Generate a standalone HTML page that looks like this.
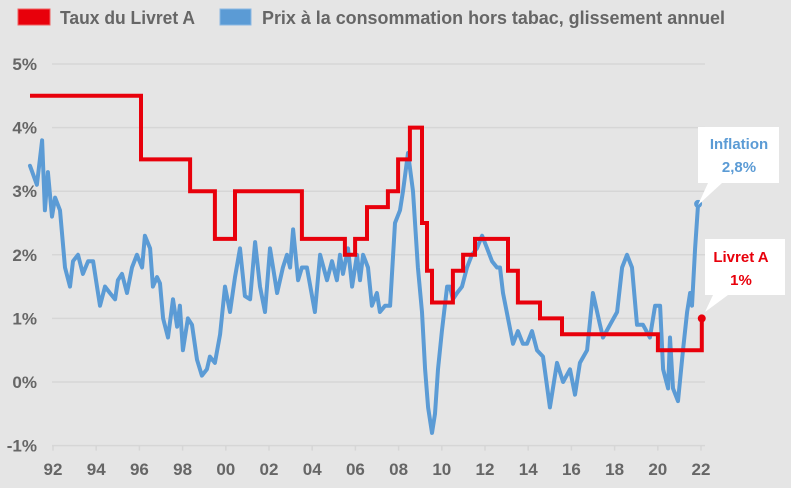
<!DOCTYPE html>
<html><head><meta charset="utf-8"><style>
html,body{margin:0;padding:0;background:#e5e5e5;}
svg{display:block;font-family:"Liberation Sans",sans-serif;font-weight:bold;}
</style></head><body>
<svg id="chart" width="791" height="488" viewBox="0 0 791 488" xmlns="http://www.w3.org/2000/svg">
<rect x="0" y="0" width="791" height="488" fill="#e5e5e5"/>
<g>
 <g>
  <rect x="18" y="9" width="32" height="16" fill="#e8000b" stroke="#f06060" stroke-width="1"/>
  <text x="60" y="24" font-size="18" fill="#666" textLength="135" lengthAdjust="spacingAndGlyphs">Taux du Livret A</text>
 </g>
 <g>
  <rect x="220" y="9" width="31" height="16" fill="#5b9bd5" stroke="#8ab8e4" stroke-width="1"/>
  <text x="262" y="24" font-size="18" fill="#666" textLength="463" lengthAdjust="spacingAndGlyphs">Prix à la consommation hors tabac, glissement annuel</text>
 </g>
</g>
<g id="grid"></g>
<g id="yaxis"></g>
<g id="xaxis"></g>
<g id="series"></g>
<g>
 <path d="M698,127 H779 V183 H722 L698,205 L708,183 H698 Z" fill="#fff"/>
 <text x="739" y="149" font-size="15" fill="#5b9bd5" text-anchor="middle">Inflation</text>
 <text x="739" y="172" font-size="15" fill="#5b9bd5" text-anchor="middle">2,8%</text>
</g>
<g>
 <path d="M705,239 H785 V295 H728 L705,312 L713,295 H705 Z" fill="#fff"/>
 <text x="741" y="262" font-size="15" fill="#e8000b" text-anchor="middle">Livret A</text>
 <text x="741" y="285" font-size="15" fill="#e8000b" text-anchor="middle">1%</text>
</g>
</svg>
<script>
const yTicks = [5, 4, 3, 2, 1, 0, -1];
const yTickLabels = ["5%", "4%", "3%", "2%", "1%", "0%", "-1%"];
const xTicks = [1992,1994,1996,1998,2000,2002,2004,2006,2008,2010,2012,2014,2016,2018,2020,2022];
const xTickLabels = ["92","94","96","98","00","02","04","06","08","10","12","14","16","18","20","22"];

const livretYears = [1990.75,1995.89,1998.16,1999.31,2000.24,2003.34,2005.33,2005.80,2006.35,2007.32,2007.79,2008.34,2008.90,2009.13,2009.36,2010.33,2010.80,2011.35,2012.88,2013.34,2014.36,2015.38,2019.82,2021.85];
const livretRates = [4.5,3.5,3.0,2.25,3.0,2.25,2.0,2.25,2.75,3.0,3.5,4.0,2.5,1.75,1.25,1.75,2.0,2.25,1.75,1.25,1.0,0.75,0.5,1.0];

const inflYears = [1990.75,1991.07,1991.31,1991.44,1991.58,1991.77,1991.91,1992.14,1992.37,1992.60,1992.74,1992.97,1993.20,1993.44,1993.67,1993.85,1993.99,1994.22,1994.45,1994.69,1994.82,1995.01,1995.24,1995.47,1995.70,1995.94,1996.07,1996.31,1996.44,1996.63,1996.77,1996.91,1997.14,1997.37,1997.56,1997.69,1997.83,1998.06,1998.25,1998.48,1998.71,1998.94,1999.08,1999.31,1999.55,1999.78,2000.01,2000.24,2000.47,2000.70,2000.94,2001.17,2001.40,2001.63,2001.86,2002.19,2002.46,2002.65,2002.79,2002.93,2003.16,2003.34,2003.57,2003.94,2004.18,2004.50,2004.73,2004.96,2005.10,2005.24,2005.47,2005.66,2005.89,2006.03,2006.17,2006.40,2006.58,2006.81,2006.95,2007.19,2007.42,2007.65,2007.88,2008.02,2008.25,2008.48,2008.71,2008.90,2009.04,2009.18,2009.36,2009.50,2009.64,2009.82,2010.06,2010.19,2010.33,2010.52,2010.75,2010.98,2011.21,2011.44,2011.68,2011.91,2012.14,2012.37,2012.51,2012.65,2012.88,2013.11,2013.34,2013.57,2013.76,2013.99,2014.22,2014.50,2014.82,2015.15,2015.43,2015.75,2015.98,2016.21,2016.54,2016.81,2017.14,2017.28,2017.60,2017.93,2018.16,2018.39,2018.62,2018.85,2019.13,2019.45,2019.69,2019.92,2020.06,2020.29,2020.38,2020.52,2020.75,2020.98,2021.17,2021.31,2021.40,2021.54,2021.68];
const inflValues = [3.4,3.1,3.8,2.7,3.3,2.6,2.9,2.7,1.8,1.5,1.9,2.0,1.7,1.9,1.9,1.5,1.2,1.5,1.4,1.3,1.6,1.7,1.4,1.8,2.0,1.8,2.3,2.1,1.5,1.65,1.55,1.0,0.7,1.3,0.87,1.2,0.5,1.0,0.9,0.35,0.1,0.2,0.4,0.3,0.75,1.5,1.1,1.65,2.1,1.35,1.3,2.2,1.5,1.1,2.1,1.4,1.8,2.0,1.8,2.4,1.6,1.8,1.8,1.1,2.0,1.6,1.9,1.6,2.0,1.7,2.1,1.5,2.0,1.6,2.0,1.8,1.2,1.4,1.1,1.2,1.2,2.5,2.7,3.0,3.6,3.0,1.8,1.1,0.2,-0.4,-0.8,-0.5,0.2,0.8,1.5,1.5,1.3,1.4,1.5,1.8,2.0,2.1,2.3,2.1,1.9,1.8,1.8,1.4,1.0,0.6,0.8,0.6,0.6,0.8,0.5,0.4,-0.4,0.3,0.0,0.2,-0.2,0.3,0.5,1.4,0.9,0.7,0.9,1.1,1.8,2.0,1.8,0.9,0.9,0.7,1.2,1.2,0.2,-0.1,0.7,-0.1,-0.3,0.5,1.1,1.4,1.2,2.1,2.8];

const NS = "http://www.w3.org/2000/svg";
function xs(year){ return 57 + (year - 1992) * 21.6; }
function ys(v){ return 382 - v * 63.6; }
function mk(tag, attrs, parent){
  const e = document.createElementNS(NS, tag);
  for (const k in attrs) e.setAttribute(k, attrs[k]);
  parent.appendChild(e);
  return e;
}
const grid = document.getElementById('grid');
const yaxis = document.getElementById('yaxis');
const xaxis = document.getElementById('xaxis');
const series = document.getElementById('series');

yTicks.forEach((v, i) => {
  const l = mk('line', {x1: 52, x2: 705, y1: ys(v), y2: ys(v), stroke: '#d6d6d6', 'stroke-width': 1.5}, grid);
  
  
  const t = mk('text', {x: 37, y: ys(v) + 6, 'font-size': 17, fill: '#666', 'text-anchor': 'end'}, yaxis);
  t.textContent = yTickLabels[i];
  
  
});
xTicks.forEach((yr, i) => {
  const x = xs(yr) - 4;
  const tk = mk('line', {x1: x, x2: x, y1: ys(-1), y2: ys(-1) + 5, stroke: '#d6d6d6', 'stroke-width': 1.5}, xaxis);
  
  
  const t = mk('text', {x: x, y: 475, 'font-size': 17, fill: '#666', 'text-anchor': 'middle'}, xaxis);
  t.textContent = xTickLabels[i];
  
  
});

// inflation line
let d = '';
inflYears.forEach((yr, i) => { d += (i ? 'L' : 'M') + xs(yr).toFixed(1) + ',' + ys(inflValues[i]).toFixed(1); });
const inflLine = mk('path', {d: d, fill: 'none', stroke: '#5b9bd5', 'stroke-width': 4, 'stroke-linejoin': 'round', 'stroke-linecap': 'round'}, series);


const li = inflYears.length - 1;
const inflDot = mk('circle', {cx: xs(inflYears[li]), cy: ys(inflValues[li]), r: 4, fill: '#5b9bd5'}, series);



// livret A step line
let d2 = '';
livretYears.forEach((yr, i) => {
  const x = xs(yr).toFixed(1), y = ys(livretRates[i]).toFixed(1);
  if (i === 0) d2 += 'M' + x + ',' + y;
  else d2 += 'H' + x + 'V' + y;
});
const lastX = xs(livretYears[livretYears.length - 1]);
const livLine = mk('path', {d: d2, fill: 'none', stroke: '#e8000b', 'stroke-width': 4, 'stroke-linejoin': 'miter'}, series);


const livDot = mk('circle', {cx: lastX, cy: ys(livretRates[livretRates.length - 1]), r: 4, fill: '#e8000b'}, series);


</script>
</body></html>
